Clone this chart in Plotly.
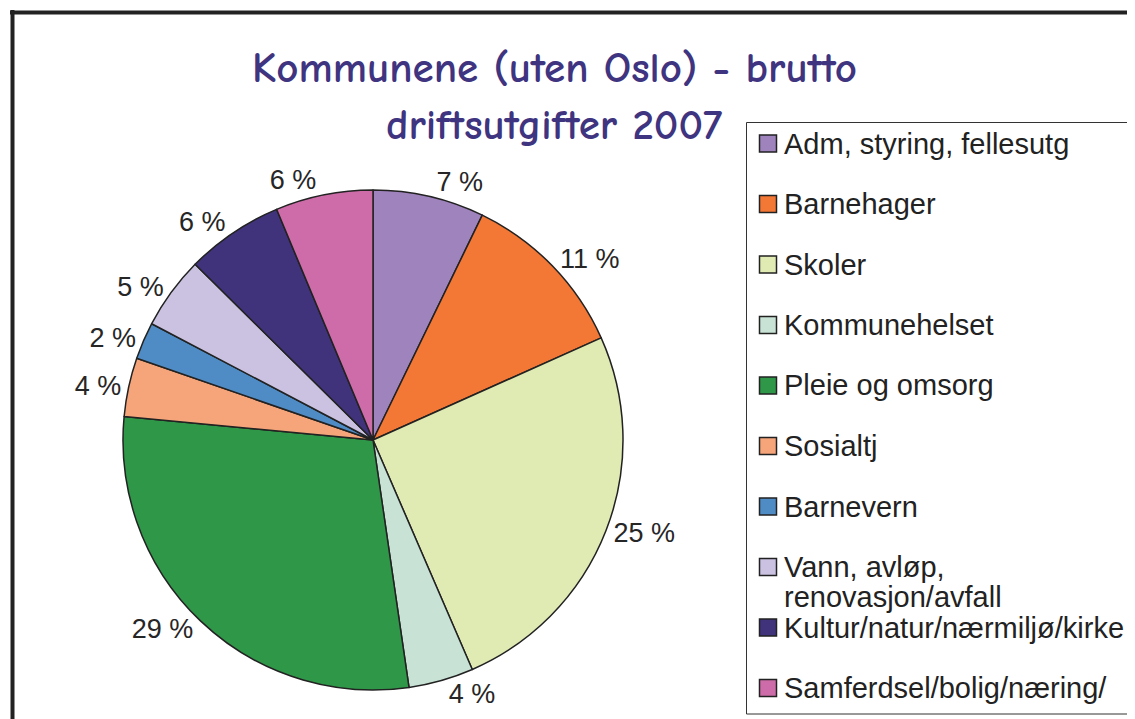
import plotly.graph_objects as go

W, H = 1135, 719
OFF = 8  # page body margin compensation

categories = [
    "Adm, styring, fellesutg",
    "Barnehager",
    "Skoler",
    "Kommunehelset",
    "Pleie og omsorg",
    "Sosialtj",
    "Barnevern",
    "Vann, avløp, renovasjon/avfall",
    "Kultur/natur/nærmiljø/kirke",
    "Samferdsel/bolig/næring/",
]
values = [7.2, 11.1, 25.2, 4.2, 28.8, 3.8, 2.4, 4.7, 6.3, 6.3]
colors = ["#9f83bd", "#f37735", "#e0eab3", "#c8e3d6", "#2f9848",
          "#f6a47a", "#4f8cc6", "#cbc2e2", "#41327c", "#cd6ca8"]
title_lines = ["Kommunene (uten Oslo) - brutto", "driftsutgifter 2007"]

text_labels = [f"{round(v)} %" for v in values]

def px_x(x):
    return (x - OFF) / W

def px_y(y):
    return 1 - (y - OFF) / H

cx, cy, r = 373, 440, 250
label_font = dict(family="Liberation Sans, Arial, sans-serif", size=27, color="#262626")

fig = go.Figure()
fig.add_trace(go.Pie(
    labels=categories,
    values=values,
    text=text_labels,
    textinfo="text",
    textposition="outside",
    sort=False,
    direction="clockwise",
    rotation=0,
    marker=dict(colors=colors, line=dict(color="#222222", width=1.5)),
    textfont=label_font,
    outsidetextfont=label_font,
    domain=dict(x=[px_x(cx - r), px_x(cx + r)], y=[px_y(cy + r), px_y(cy - r)]),
    showlegend=False,
    automargin=False,
    hoverinfo="label+percent",
))

shapes = []
annotations = []

# outer frame (top and left edges visible)
shapes.append(dict(type="line", xref="paper", yref="paper",
                   x0=px_x(10), x1=px_x(W + 20), y0=px_y(12.5), y1=px_y(12.5),
                   line=dict(color="#222222", width=4)))
shapes.append(dict(type="line", xref="paper", yref="paper",
                   x0=px_x(12.5), x1=px_x(12.5), y0=px_y(10), y1=px_y(H + 20),
                   line=dict(color="#222222", width=4)))

# legend box
shapes.append(dict(type="rect", xref="paper", yref="paper",
                   x0=px_x(746.5), x1=px_x(1130.5), y0=px_y(714), y1=px_y(122.5),
                   line=dict(color="#333333", width=1), fillcolor="white", layer="above"))

leg_font = dict(family="Liberation Sans, Arial, sans-serif", size=29, color="#222222")
leg_top = 143.5
leg_step = 60.5
line_gap = 30
for i, (cat, col) in enumerate(zip(categories, colors)):
    yc = leg_top + i * leg_step
    shapes.append(dict(type="rect", xref="paper", yref="paper",
                       x0=px_x(759.5), x1=px_x(776.5), y0=px_y(yc + 8.5), y1=px_y(yc - 8.5),
                       line=dict(color="#222222", width=1.5), fillcolor=col, layer="above"))
    lines = cat.replace(", renovasjon", ",\nrenovasjon").split("\n")
    for j, line in enumerate(lines):
        annotations.append(dict(xref="paper", yref="paper", x=px_x(783), y=px_y(yc + j * line_gap),
                                text=line, showarrow=False, xanchor="left", yanchor="middle",
                                align="left", font=leg_font, borderpad=0))

# title
title_font = dict(family="Comic Sans MS, Comic Neue, Lato, sans-serif", size=43,
                  color="#3f3480", weight=900)
annotations.append(dict(xref="paper", yref="paper", x=px_x(554), y=px_y(68),
                        text=title_lines[0], showarrow=False,
                        xanchor="center", yanchor="middle", font=title_font))
annotations.append(dict(xref="paper", yref="paper", x=px_x(554), y=px_y(125),
                        text=title_lines[1], showarrow=False,
                        xanchor="center", yanchor="middle", font=title_font))

fig.update_layout(
    width=W, height=H,
    margin=dict(l=0, r=0, t=0, b=0),
    paper_bgcolor="white",
    plot_bgcolor="white",
    shapes=shapes,
    annotations=annotations,
)

fig.write_html("out.html")
